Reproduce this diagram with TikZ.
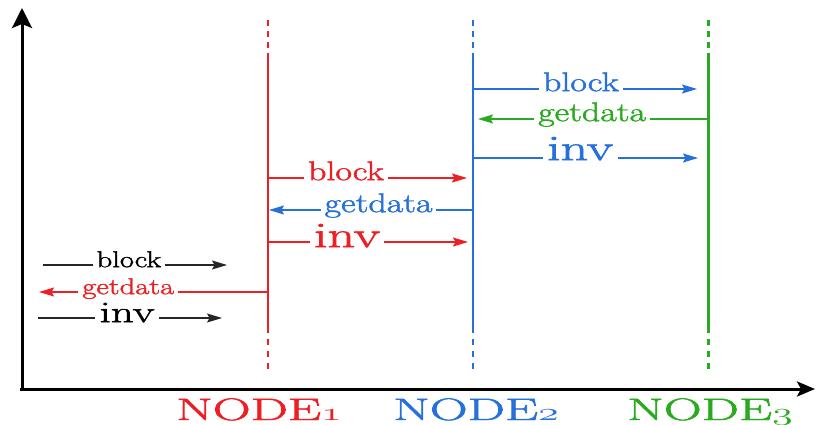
\documentclass[tikz,border=0pt]{standalone}
\usepackage{fontspec}
\newfontfamily\lblfont{Latin Modern Roman}[FakeBold=1.5]
\usetikzlibrary{arrows.meta}
\definecolor{redc}{RGB}{236,32,36}
\definecolor{bluec}{RGB}{38,112,218}
\definecolor{greenc}{RGB}{42,170,32}
\newcommand{\osn}[1]{{\usefont{OML}{cmm}{m}{it}#1}}
\begin{document}
\begin{tikzpicture}[x=1pt,y=-1pt,
  tipstyle/.style={-{Stealth[length=15pt,width=9pt,inset=2.5pt]}},
  msg/.style={line width=1.4pt, tipstyle},
  lbl/.style={fill=white, inner xsep=3pt, inner ysep=0pt, anchor=mid, xscale=1.33,
              font=\lblfont\fontsize{27}{27}\selectfont},
  lblbig/.style={lbl, xscale=1.5/1.33, font=\lblfont\fontsize{36}{36}\selectfont},
  lblsmall/.style={lbl, font=\lblfont\fontsize{23}{23}\selectfont},
  lblsmallbig/.style={lbl, xscale=1.5/1.33, font=\lblfont\fontsize{30}{30}\selectfont},
  nodelabel/.style={anchor=base, xscale=1.7, font=\lblfont\fontsize{31}{31}\selectfont},
  axis/.style={line width=3pt}
]
\useasboundingbox (0,0) rectangle (817,425);

% axes
\coordinate (O) at (22,389);
\coordinate (ytop) at (22,8);
\coordinate (xend) at (815,389);
\draw[axis, -{Stealth[length=20pt,width=20pt,inset=4pt]}] (22,391) -- (ytop);
\draw[axis, -{Stealth[length=18pt,width=15pt,inset=4pt]}] (20,389) -- (xend);

% lifelines
\foreach \n/\x/\c/\w in {1/268/redc/1.5pt, 2/473/bluec/1.5pt, 3/708/greenc/3pt}{
  \coordinate (t\n) at (\x,20);
  \coordinate (a\n) at (\x,53);
  \coordinate (b\n) at (\x,333);
  \coordinate (e\n) at (\x,373);
  \draw[\c, line width=\w, dash pattern=on 6pt off 5pt] (t\n) -- (a\n);
  \draw[\c, line width=\w] (a\n) -- (b\n);
  \draw[\c, line width=\w, dash pattern=on 6pt off 6pt] (b\n) ++(0,6) -- (e\n);
}

% node labels
\node[nodelabel, text=redc]   (L1) at (259,420) {NODE\osn{1}};
\node[nodelabel, text=bluec]  (L2) at (476,420) {NODE\osn{2}};
\node[nodelabel, text=greenc] (L3) at (710,420) {NODE\osn{3}};

% NODE2 <-> NODE3
\coordinate (s1) at (473,89);  \coordinate (f1) at (697,89);
\coordinate (s2) at (708,119); \coordinate (f2) at (478,119);
\coordinate (s3) at (473,158); \coordinate (f3) at (698,158);
\draw[msg, bluec]  (s1) -- node[lbl, pos=0.482] (m1) {block} (f1);
\draw[msg, greenc] (s2) -- node[lbl, pos=0.504] (m2) {getdata} (f2);
\draw[msg, bluec]  (s3) -- node[lblbig, pos=0.476] (m3) {inv} (f3);

% NODE1 <-> NODE2
\coordinate (s4) at (268,178); \coordinate (f4) at (467,178);
\coordinate (s5) at (473,210); \coordinate (f5) at (269,210);
\coordinate (s6) at (268,242); \coordinate (f6) at (468,242);
\draw[msg, redc]  (s4) -- node[lbl, pos=0.392] (m4) {block} (f4);
\draw[msg, bluec] (s5) -- node[lbl, pos=0.463] (m5) {getdata} (f5);
\draw[msg, redc]  (s6) -- node[lblbig, pos=0.395, yshift=-3pt] (m6) {inv} (f6);

% outside <-> NODE1
\coordinate (s7) at (43,265);  \coordinate (f7) at (227,265);
\coordinate (s8) at (268,292); \coordinate (f8) at (39,292);
\coordinate (s9) at (38,318);  \coordinate (f9) at (222,318);
\draw[msg, line width=1.2pt, black!85] (s7) -- node[lblsmall, text=black, pos=0.467] (m7) {block} (f7);
\draw[msg, redc] (s8) -- node[lblsmall, pos=0.61] (m8) {getdata} (f8);
\draw[msg, line width=1.2pt, black!85] (s9) -- node[lblsmallbig, text=black, pos=0.484, yshift=-2pt] (m9) {inv} (f9);
\end{tikzpicture}
\end{document}
